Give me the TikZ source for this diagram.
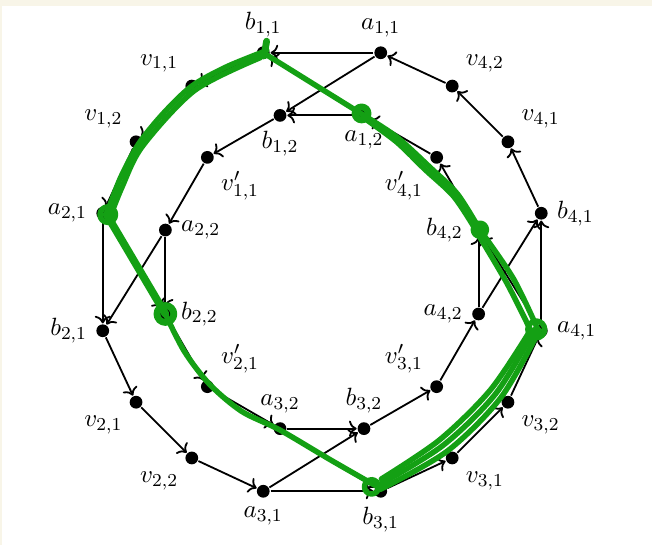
\documentclass[tikz,border=0pt]{standalone}
\usetikzlibrary{arrows.meta, positioning}
\definecolor{cgreen}{HTML}{14A014}
\definecolor{cpaper}{HTML}{F8F5E8}
\tikzset{
  every picture/.style={line width=0.8pt},
  every label/.style={font=\fontsize{11}{13}\selectfont},
  dot/.style={circle, fill=black, inner sep=0pt, minimum size=5.6pt},
  arc/.style={->},
  pen/.style={draw=cgreen, line width=2.4pt, line cap=round, line join=round},
}
\begin{document}
\begin{tikzpicture}
  \fill[cpaper] (-4.965,-4.209) rectangle (5.088,4.194);
  \fill[white] (-4.934,-4.209) rectangle (5.088,4.101);
  \useasboundingbox (-4.965,-4.209) rectangle (5.088,4.194);
  % outer ring
  \foreach \n/\a/\p/\t in {a11/75/90/{a_{1,1}}, b11/105/90/{b_{1,1}}, v11/125/135/{v_{1,1}}, v12/145/135/{v_{1,2}},
      a21/165/180/{a_{2,1}}, b21/195/180/{b_{2,1}}, v21/215/225/{v_{2,1}}, v22/235/225/{v_{2,2}},
      a31/255/270/{a_{3,1}}, b31/285/270/{b_{3,1}}, v31/305/315/{v_{3,1}}, v32/325/315/{v_{3,2}},
      a41/345/0/{a_{4,1}}, b41/15/0/{b_{4,1}}, v41/35/45/{v_{4,1}}, v42/55/45/{v_{4,2}}}
    \node[dot, label={\p:$\t$}] (\n) at (\a:3.5) {};
  % inner ring
  \foreach \n/\a/\p/\t in {a12/75/270/{a_{1,2}}, b12/105/270/{b_{1,2}}, u1/135/315/{v'_{1,1}},
      a22/165/0/{a_{2,2}}, b22/195/0/{b_{2,2}}, u2/225/45/{v'_{2,1}},
      a32/255/90/{a_{3,2}}, b32/285/90/{b_{3,2}}, u3/315/135/{v'_{3,1}},
      a42/345/180/{a_{4,2}}, b42/15/180/{b_{4,2}}, u4/45/225/{v'_{4,1}}}
    \node[dot, label={\p:$\t$}] (\n) at (\a:2.5) {};
  % arcs
  \foreach \i/\j in {1/2, 2/3, 3/4, 4/1} {
    \draw[arc] (b\i1) -- (v\i1);
    \draw[arc] (v\i1) -- (v\i2);
    \draw[arc] (v\i2) -- (a\j1);
    \draw[arc] (b\i2) -- (u\i);
    \draw[arc] (u\i) -- (a\j2);
    \foreach \p in {1,2} \foreach \q in {1,2} \draw[arc] (a\i\p) -- (b\i\q);
  }
  % green trace on top
  \begin{scope}[pen]
    \draw[line width=3pt] (103.5:3.66) -- (105:3.45);
    \draw plot[smooth] coordinates {(104:3.52) (115:3.49) (125:3.5) (135:3.46) (145:3.45) (155:3.43) (165:3.44)};
    \draw plot[smooth] coordinates {(106:3.44) (125:3.42) (145:3.38) (157:3.35) (166:3.38)};
    \draw (165:3.42) circle (0.12);
    \draw[line width=3.4pt] (165:3.44) -- (195:2.5);
    \draw[line width=3pt] (195:2.5) circle (0.13);
    \draw plot[smooth] coordinates {(195:2.5) (210:2.45) (225:2.45) (240:2.48) (255:2.52) (272.6:2.9) (285:3.45)};
    \draw (283:3.4) circle (0.11);
    \draw plot[smooth] coordinates {(285:3.47) (305:3.37) (325:3.37) (345:3.47)};
    \draw plot[smooth] coordinates {(285:3.4) (305:3.26) (325:3.27) (345:3.4)};
    \draw plot[smooth] coordinates {(286:3.32) (305:3.16) (325:3.17) (344:3.33)};
    \draw (345:3.42) circle (0.13);
    \draw plot[smooth] coordinates {(345:3.45) (2.95,-0.10) (15:2.52)};
    \draw plot[smooth] coordinates {(344:3.36) (2.85,-0.17) (14:2.47)};
    \draw[line width=3pt] (15:2.52) circle (0.09);
    \draw plot[smooth] coordinates {(15:2.52) (30:2.41) (44:2.32) (61:2.38) (75:2.5)};
    \draw plot[smooth] coordinates {(16:2.45) (30:2.34) (45:2.24) (60:2.31) (74:2.45)};
    \draw[line width=3pt] (76:2.52) circle (0.1);
    \draw (75:2.5) -- (105:3.5);
  \end{scope}
\end{tikzpicture}
\end{document}
